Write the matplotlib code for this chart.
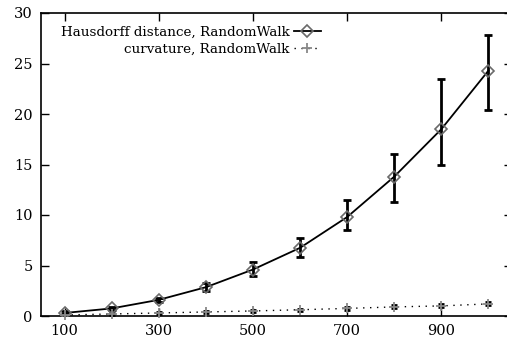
import matplotlib
matplotlib.use("Agg")
import matplotlib.pyplot as plt
import numpy as np

x = [100, 200, 300, 400, 500, 600, 700, 800, 900, 1000]
haus = [0.3, 0.75, 1.6, 2.85, 4.6, 6.75, 9.8, 13.8, 18.5, 24.3]
haus_lo = [0.15, 0.6, 1.4, 2.45, 4.0, 5.8, 8.5, 11.3, 15.0, 20.4]
haus_hi = [0.45, 0.9, 1.8, 3.3, 5.3, 7.7, 11.5, 16.0, 23.5, 27.8]
curv = [0.1, 0.2, 0.3, 0.4, 0.5, 0.62, 0.75, 0.9, 1.0, 1.2]
curv_lo = [0.05, 0.12, 0.22, 0.3, 0.4, 0.52, 0.62, 0.75, 0.85, 1.05]
curv_hi = [0.15, 0.28, 0.38, 0.48, 0.6, 0.72, 0.88, 1.05, 1.15, 1.35]
xticks = [100, 300, 500, 700, 900]
yticks = [0, 5, 10, 15, 20, 25, 30]

plt.rcParams['font.family'] = ['DejaVu Serif']
fig = plt.figure(figsize=(5.07, 3.41), dpi=100)
ax = fig.add_axes([41/507, 25/341, 471/507, 303/341])

h = np.array(haus)
ax.errorbar(x, haus, yerr=[h - np.array(haus_lo), np.array(haus_hi) - h],
            fmt='none', ecolor='black', elinewidth=2, capsize=3, capthick=2, zorder=2)
ax.plot(x, haus, '-', color='black', lw=1.3, marker='D', markersize=6.5,
        markerfacecolor='none', markeredgecolor='#6a6a6a', markeredgewidth=1.2,
        label='Hausdorff distance, RandomWalk', zorder=3)

c = np.array(curv)
eb = ax.errorbar(x, curv, yerr=[c - np.array(curv_lo), np.array(curv_hi) - c],
                 fmt='none', ecolor='black', elinewidth=2, capsize=2.5, capthick=2,
                 zorder=2)
for col in eb[2]:
    col.set_linestyle((0, (1, 1)))
for cap in eb[1]:
    cap.set_markersize(4)
ax.plot(x, curv, color='black', lw=1.0, linestyle=(0, (1, 4)), marker='+',
        markersize=7.5, markeredgecolor='#888888', markeredgewidth=1.3,
        label='curvature, RandomWalk', zorder=3, clip_on=False)

ax.set_xlim(50, 1050)
ax.set_ylim(0, 30)
ax.set_xticks(xticks)
ax.set_yticks(yticks)
ax.tick_params(direction='in', length=6, width=1, top=True, right=True,
               labelsize=10.5, colors='black', pad=6)
for s in ax.spines.values():
    s.set_linewidth(1.2)
ax.spines['right'].set_visible(False)

leg = ax.legend(loc='upper left', bbox_to_anchor=(0.025, 0.985), markerfirst=False,
                frameon=False, handlelength=2.0, fontsize=9.7, labelspacing=0.3,
                handletextpad=0.3, borderaxespad=0.2)
for t in leg.get_texts():
    t.set_ha('right')
leg._legend_box.align = 'right'

fig.savefig('out.png', dpi=100)
